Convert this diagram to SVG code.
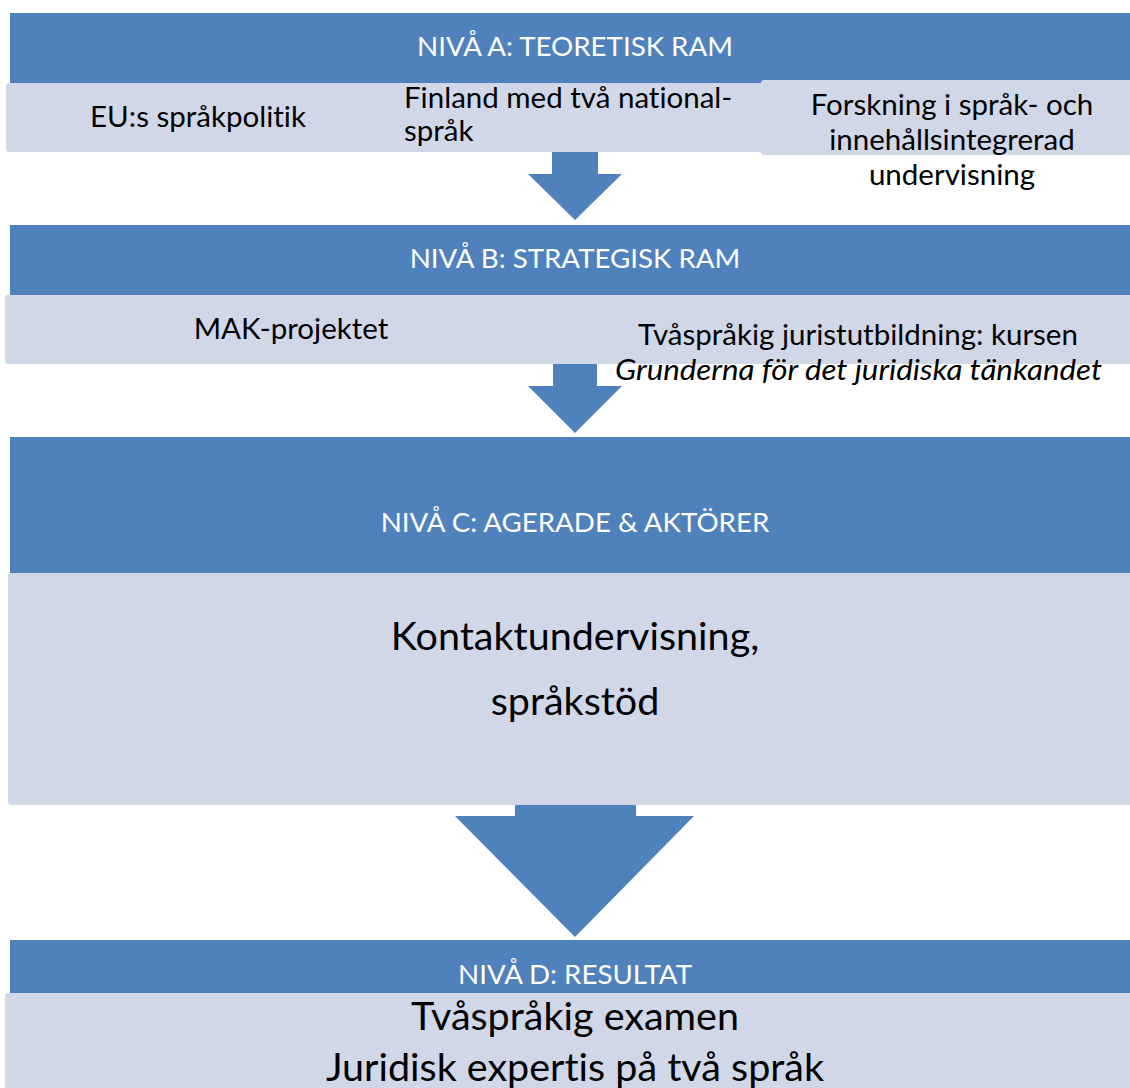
<svg xmlns="http://www.w3.org/2000/svg" width="1130" height="1088" viewBox="0 0 1130 1088">
<style>
text{font-variant-ligatures:none;font-family:Lato,"Open Sans","Liberation Sans",sans-serif}
.hdr{fill:#4F81BD}
.box{fill:#D0D8E8}
.arr{fill:#4F81BD}
.ht{font-size:27.7px;fill:#FFFFFF;text-anchor:middle}
.t{font-size:29.5px;fill:#000000}
.big{font-size:39.5px;fill:#000000;text-anchor:middle}
</style>
<rect width="1130" height="1088" fill="#FFFFFF"/>
<g id="connectors">
  <polygon class="arr" points="552,150 598,150 598,174 622,174 575,220 528,174 552,174"/>
  <polygon class="arr" points="553,362 597,362 597,386 622,386 575,433 528,386 553,386"/>
  <polygon class="arr" points="515,803 636,803 636,816 694,816 575,937 455,816 515,816"/>
</g>
<g id="nivaA">
  <rect class="hdr" x="10" y="13" width="1125" height="70"/>
  <text class="ht" x="575" y="56">NIVÅ A: TEORETISK RAM</text>
</g>
<g id="eu">
  <rect class="box" x="6" y="83" width="400" height="69" rx="3"/>
  <text class="t" x="198" y="127" text-anchor="middle">EU:s språkpolitik</text>
</g>
<g id="finland">
  <rect class="box" x="390" y="83" width="375" height="69" rx="3"/>
  <text class="t" x="404" y="108">Finland med två national-</text>
  <text class="t" x="404" y="141">språk</text>
</g>
<g id="forskning">
  <rect class="box" x="761" y="80" width="375" height="75" rx="3"/>
  <text class="t" x="952" y="115" text-anchor="middle">Forskning i språk- och</text>
  <text class="t" x="952" y="150" text-anchor="middle">innehållsintegrerad</text>
  <text class="t" x="952" y="185" text-anchor="middle">undervisning</text>
</g>
<g id="nivaB">
  <rect class="hdr" x="10" y="225" width="1125" height="70"/>
  <text class="ht" x="575" y="268">NIVÅ B: STRATEGISK RAM</text>
</g>
<g id="mak">
  <rect class="box" x="5" y="295" width="600" height="69" rx="3"/>
  <text class="t" x="291" y="339" text-anchor="middle">MAK-projektet</text>
</g>
<g id="tvasprakig">
  <rect class="box" x="580" y="295" width="555" height="69" rx="3"/>
  <text class="t" x="858" y="345" text-anchor="middle">Tvåspråkig juristutbildning: kursen</text>
  <text class="t" x="615" y="380" font-style="italic" textLength="487" lengthAdjust="spacingAndGlyphs">Grunderna för det juridiska tänkandet</text>
</g>
<g id="nivaC">
  <rect class="hdr" x="10" y="437" width="1125" height="136"/>
  <text class="ht" x="575" y="532">NIVÅ C: AGERADE &amp; AKTÖRER</text>
</g>
<g id="kontakt">
  <rect class="box" x="8" y="573" width="1130" height="232" rx="3"/>
  <text class="big" x="575" y="650">Kontaktundervisning,</text>
  <text class="big" x="575" y="715">språkstöd</text>
</g>
<g id="nivaD">
  <rect class="hdr" x="10" y="940" width="1125" height="53"/>
  <text class="ht" x="575" y="984">NIVÅ D: RESULTAT</text>
</g>
<g id="resultat">
  <rect class="box" x="5" y="993" width="1130" height="100" rx="3"/>
  <text class="big" x="575" y="1030">Tvåspråkig examen</text>
  <text class="big" x="575" y="1081">Juridisk expertis på två språk</text>
</g>
</svg>
